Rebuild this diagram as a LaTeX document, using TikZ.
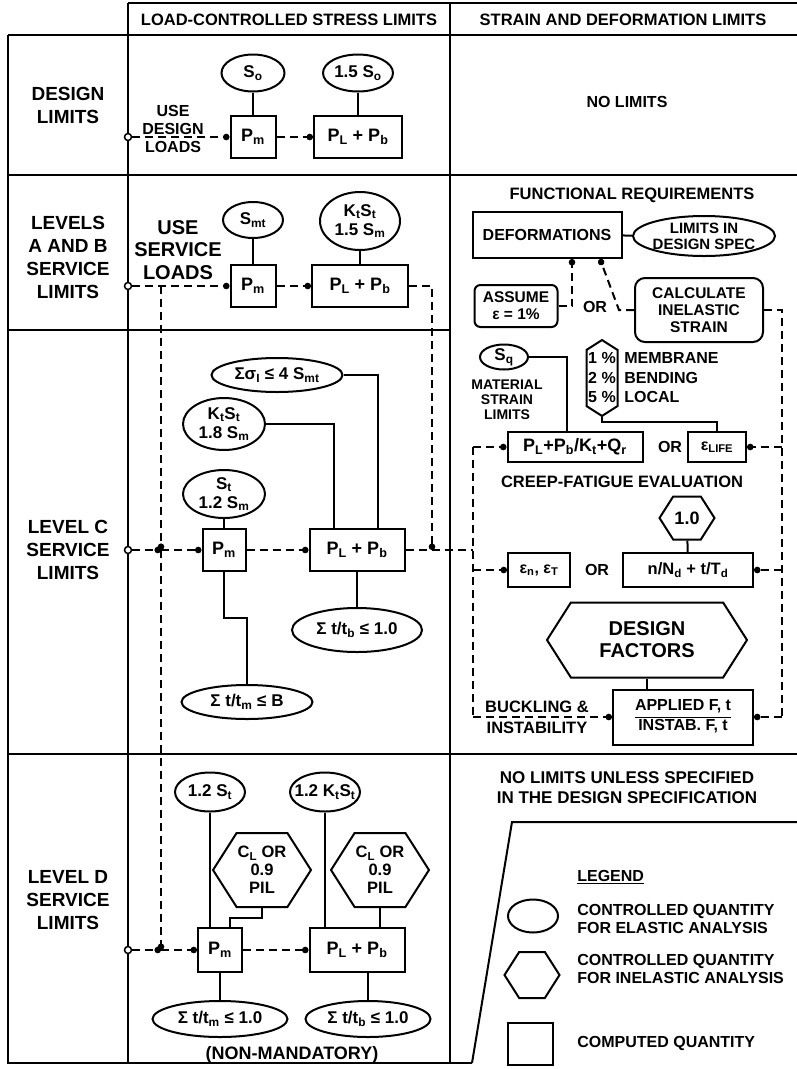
\documentclass[tikz,border=0pt]{standalone}
\usepackage{fontspec}
\setmainfont{Liberation Sans}
\usetikzlibrary{shapes.geometric,shapes.symbols,arrows.meta}
\newcommand{\lett}[2]{\fontsize{#1}{#2}\selectfont\bfseries}
\newcommand{\subx}[1]{\textsubscript{#1}}
\begin{document}
\begin{tikzpicture}[x=1pt, y=-1pt, line width=2pt,
        cbox/.style={draw, inner sep=2pt, font=\lett{18}{20}, align=center},
        oval/.style={draw, ellipse, inner xsep=-6pt, inner ysep=-1pt, font=\lett{17}{19}, align=center},
        hexa/.style={draw, signal, signal to=east and west, signal pointer angle=115, inner sep=1pt, font=\lett{16.5}{18}, align=center},
        rbox/.style={draw, rounded corners=6pt, inner sep=2pt, font=\lett{15.5}{17}, align=center},
        txt/.style={font=\lett{16}{18}, align=center},
        rowlbl/.style={font=\lett{19}{23}, align=center},
        head/.style={font=\lett{16.5}{18}},
        flow/.style={dash pattern=on 8pt off 5pt},
        flowarr/.style={flow, -{Circle[length=6.5pt]}},
        startpt/.style={draw, circle, fill=white, inner sep=0pt, minimum size=7pt, line width=1.5pt}]
        \useasboundingbox (0,0) rectangle (797,1069);

        % Table frame
        \draw (128,3) -- (797,3);
        \draw (8,35) -- (797,35);
        \draw (8,35) -- (8,1063) -- (472,1063);
        \draw (128,3) -- (128,1063);
        \draw (450,3) -- (450,1063);
        \draw (8,175) -- (797,175);
        \draw (8,330) -- (450,330);
        \draw (8,754) -- (797,754);
        \draw (797,822) -- (512,822) -- (472,1063);

        % Column heads
        \node[head] (hStress) at (289,20) {LOAD-CONTROLLED STRESS LIMITS};
        \node[head] (hStrain) at (623,20) {STRAIN AND DEFORMATION LIMITS};

        % Row heads
        \node[rowlbl] (rDesign) at (68,105) {DESIGN\\LIMITS};
        \node[rowlbl] (rAB) at (68,257) {LEVELS\\A AND B\\SERVICE\\LIMITS};
        \node[rowlbl] (rC) at (68,550) {LEVEL C\\SERVICE\\LIMITS};
        \node[rowlbl] (rD) at (68,900) {LEVEL D\\SERVICE\\LIMITS};

        % Design limits
        \node[startpt] (s0) at (128,137) {};
        \node[txt] (useDL) at (173,129) {USE\\DESIGN\\LOADS};
        \node[cbox, minimum width=45pt, minimum height=42pt] (pm0) at (253,137) {P\subx{m}};
        \node[cbox, minimum width=88pt, minimum height=42pt] (plb0) at (358,137) {P\subx{L} + P\subx{b}};
        \node[oval, minimum width=63pt, minimum height=37pt] (so) at (253,73) {S\subx{o}};
        \node[oval, minimum width=70pt, minimum height=37pt] (so15) at (358,73) {1.5 S\subx{o}};
        \draw (so) -- (pm0);
        \draw (so15) -- (plb0);
        \draw[flowarr] (s0) -- (pm0);
        \draw[flowarr] (pm0) -- (plb0);
        \node[txt] (noLim) at (627,102) {NO LIMITS};

        % Levels A and B
        \node[startpt] (s1) at (128,286) {};
        \node[txt, font=\lett{20}{22.5}] (useSL) at (178,250) {USE\\SERVICE\\LOADS};
        \node[cbox, minimum width=45pt, minimum height=42pt] (pm1) at (253,286) {P\subx{m}};
        \node[cbox, minimum width=96pt, minimum height=42pt] (plb1) at (360,286) {P\subx{L} + P\subx{b}};
        \node[oval, minimum width=60pt, minimum height=36pt] (smt) at (253,220) {S\subx{mt}};
        \node[oval, minimum width=80pt, minimum height=58pt] (ktst1) at (360,221) {K\subx{t}S\subx{t}\\1.5 S\subx{m}};
        \draw (smt) -- (pm1);
        \draw (ktst1) -- (plb1);
        \coordinate (jAB) at (161,286);
        \coordinate (jC1) at (161,550);
        \coordinate (jD) at (161,950);
        \coordinate (jC2) at (432,550);
        \coordinate (jL) at (473,550);
        \draw[flowarr] (s1) -- (pm1);
        \draw[flowarr] (pm1) -- (plb1);
        \draw[flowarr] (plb1) -| (jC2);
        \draw[flowarr] (jAB) -- (jC1);
        \draw[flowarr] (jC1) -- (jD);

        % Level C
        \node[startpt] (s2) at (128,550) {};
        \node[cbox, minimum width=43pt, minimum height=42pt] (pm2) at (224,550) {P\subx{m}};
        \node[cbox, minimum width=95pt, minimum height=42pt] (plb2) at (357,550) {P\subx{L} + P\subx{b}};
        \node[oval, minimum width=82pt, minimum height=48pt] (st2) at (224,494) {S\subx{t}\\1.2 S\subx{m}};
        \node[oval, minimum width=82pt, minimum height=52pt] (ktst2) at (224,424) {K\subx{t}S\subx{t}\\1.8 S\subx{m}};
        \node[oval, minimum width=131pt, minimum height=34pt] (sig) at (277,375) {Σσ\subx{I} ≤ 4 S\subx{mt}};
        \node[oval, minimum width=131pt, minimum height=34pt] (tmB) at (247,702) {Σ t/t\subx{m} ≤ B};
        \node[oval, minimum width=130pt, minimum height=44pt] (tb2) at (357,630) {Σ t/t\subx{b} ≤ 1.0};
        \draw (st2) -- (pm2);
        \draw (ktst2.east) -| (334,0 |- plb2.north);
        \draw (sig.east) -| (378,0 |- plb2.north);
        \draw (pm2.south) |- (247,618) -- (tmB.north);
        \draw (plb2) -- (tb2);
        \draw[flowarr] (s2) -- (jC1);
        \draw[flowarr] (jC1) -- (pm2);
        \draw[flowarr] (pm2) -- (plb2);
        \draw[flow] (plb2) -- (jL);

        % Strain and deformation limits
        \node[txt, font=\lett{16.5}{18}] (funReq) at (632,195) {FUNCTIONAL REQUIREMENTS};
        \node[cbox, minimum width=149pt, minimum height=46pt, font=\lett{16}{18}] (defo) at (547,235) {DEFORMATIONS};
        \node[oval, minimum width=142pt, minimum height=40pt, font=\lett{15}{16}, inner ysep=-3pt] (limSpec) at (704,236) {LIMITS IN\\DESIGN SPEC};
        \node[rbox, minimum width=83pt, minimum height=42pt] (assume) at (516,306) {ASSUME\\ε = 1\%};
        \node[rbox, rounded corners=10pt, minimum width=128pt, minimum height=64pt] (calc) at (699,310) {CALCULATE\\INELASTIC\\STRAIN};
        \node[txt] (or1) at (595,307) {OR};
        \draw (defo) -- (limSpec);
        \draw[flowarr] (assume.east) -| (572,0 |- defo.south);
        \draw[flowarr] (calc.west) -- ++(-15,0) -- (600,0 |- defo.south);

        \node[oval, minimum width=48pt, minimum height=25pt] (sq) at (504,357) {S\subx{q}};
        \node[txt, font=\lett{14}{15}] (matLim) at (507,400) {MATERIAL\\STRAIN\\LIMITS};
        \node[hexa, signal to=north and south, minimum width=31pt, minimum height=75pt, font=\lett{16}{19.5}] (pct) at (602,378) {1 \%\\2 \%\\5 \%};
        \node[txt, font=\lett{16}{19.5}, align=left, anchor=west] (pctLbl) at (620,378) {MEMBRANE\\BENDING\\LOCAL};
        \node[cbox, minimum width=135pt, minimum height=30pt] (crp) at (575,447) {P\subx{L}+P\subx{b}/K\subx{t}+Q\subx{r}};
        \node[txt] (or2) at (670,447) {OR};
        \node[cbox, minimum width=58pt, minimum height=30pt, font=\lett{16}{18}] (life) at (717,447) {ε\subx{LIFE}};
        \draw (sq.east) -| (567,0 |- crp.north);
        \draw (pct.south) -- ++(0,5) -| (life.north);

        \node[txt, font=\lett{16.5}{18}] (cfe) at (622,482) {CREEP-FATIGUE EVALUATION};
        \node[hexa, minimum width=55pt, minimum height=43pt, font=\lett{18}{20}] (one) at (687,518) {1.0};
        \node[cbox, minimum width=62pt, minimum height=34pt, font=\lett{16}{18}] (enT) at (539,570) {ε\subx{n}, ε\subx{T}};
        \node[txt] (or3) at (597,570) {OR};
        \node[cbox, minimum width=130pt, minimum height=34pt, font=\lett{16.5}{18}] (nNd) at (688,570) {n/N\subx{d} + t/T\subx{d}};
        \draw (one) -- (nNd);

        \node[hexa, minimum width=200pt, minimum height=75pt, font=\lett{20}{22}] (dfac) at (647,640) {DESIGN\\FACTORS};
        \node[cbox, minimum width=140pt, minimum height=55pt, font=\lett{16}{18}] (appl) at (683,717) {\setlength\arrayrulewidth{1.5pt}\begin{tabular}{@{}c@{}}APPLIED F, t\\[1pt]\hline INSTAB. F, t\end{tabular}};
        \draw (dfac.south) -- (dfac.south |- appl.north);
        \node[txt, font=\lett{16.5}{21}] (buck) at (537,717) {BUCKLING \&\\INSTABILITY};

        % Dashed network on the right
        \coordinate (lT) at (473,447);
        \coordinate (lN) at (473,570);
        \coordinate (lB) at (473,717);
        \coordinate (rT) at (782,310);
        \coordinate (rL) at (782,447);
        \coordinate (rN) at (782,570);
        \coordinate (rB) at (782,717);
        \draw[flow] (lT) -- (lB);
        \draw[flow] (calc) -- (rT) -- (rB);
        \draw[flowarr] (lT) -- (crp);
        \draw[flowarr] (lN) -- (enT);
        \draw[flowarr] (lB) -- (appl);
        \draw[flowarr] (rL) -- (life);
        \draw[flowarr] (rN) -- (nNd);
        \draw[flowarr] (rB) -- (appl);

        % Level D
        \node[startpt] (s3) at (128,950) {};
        \node[cbox, minimum width=44pt, minimum height=44pt] (pm3) at (220,950) {P\subx{m}};
        \node[cbox, minimum width=95pt, minimum height=44pt] (plb3) at (357,950) {P\subx{L} + P\subx{b}};
        \node[oval, minimum width=70pt, minimum height=39pt] (st12) at (210,792) {1.2 S\subx{t}};
        \node[oval, minimum width=70pt, minimum height=39pt] (kst12) at (325,792) {1.2 K\subx{t}S\subx{t}};
        \node[hexa, minimum width=85pt, minimum height=74pt] (clA) at (262,870) {C\subx{L} OR\\0.9\\PIL};
        \node[hexa, minimum width=85pt, minimum height=74pt] (clB) at (380,870) {C\subx{L} OR\\0.9\\PIL};
        \node[oval, minimum width=135pt, minimum height=36pt] (tm1) at (220,1019) {Σ t/t\subx{m} ≤ 1.0};
        \node[oval, minimum width=125pt, minimum height=36pt] (tb1) at (368,1019) {Σ t/t\subx{b} ≤ 1.0};
        \node[txt, font=\lett{18}{20}] (nonMand) at (292,1055) {(NON-MANDATORY)};
        \draw (st12.south) -- (st12.south |- pm3.north);
        \draw (kst12.south) -- (kst12.south |- plb3.north);
        \draw (clA.south) |- (230,918) -- (230,0 |- pm3.north);
        \draw (clB.south) -- (clB.south |- plb3.north);
        \draw (pm3) -- (tm1);
        \draw (tb1.north) -- (tb1.north |- plb3.south);
        \draw[flowarr] (s3) -- (jD);
        \draw[flowarr] (jD) -- (pm3);
        \draw[flowarr] (pm3) -- (plb3);

        % Legend
        \node[txt, font=\lett{17}{20}] (noLimD) at (627,788) {NO LIMITS UNLESS SPECIFIED\\IN THE DESIGN SPECIFICATION};
        \node[txt, anchor=west] (legHead) at (573,877) {\underline{LEGEND}};
        \node[oval, minimum width=50pt, minimum height=33pt] (legOval) at (533,916) {};
        \node[hexa, minimum width=55pt, minimum height=46pt] (legHex) at (532,975) {};
        \node[cbox, minimum width=45pt, minimum height=42pt] (legBox) at (530,1044) {};
        \node[txt, align=left, anchor=west] (legOvalTxt) at (573,919) {CONTROLLED QUANTITY\\FOR ELASTIC ANALYSIS};
        \node[txt, align=left, anchor=west] (legHexTxt) at (573,969) {CONTROLLED QUANTITY\\FOR INELASTIC ANALYSIS};
        \node[txt, anchor=west] (legBoxTxt) at (573,1043) {COMPUTED QUANTITY};
\end{tikzpicture}
\end{document}
